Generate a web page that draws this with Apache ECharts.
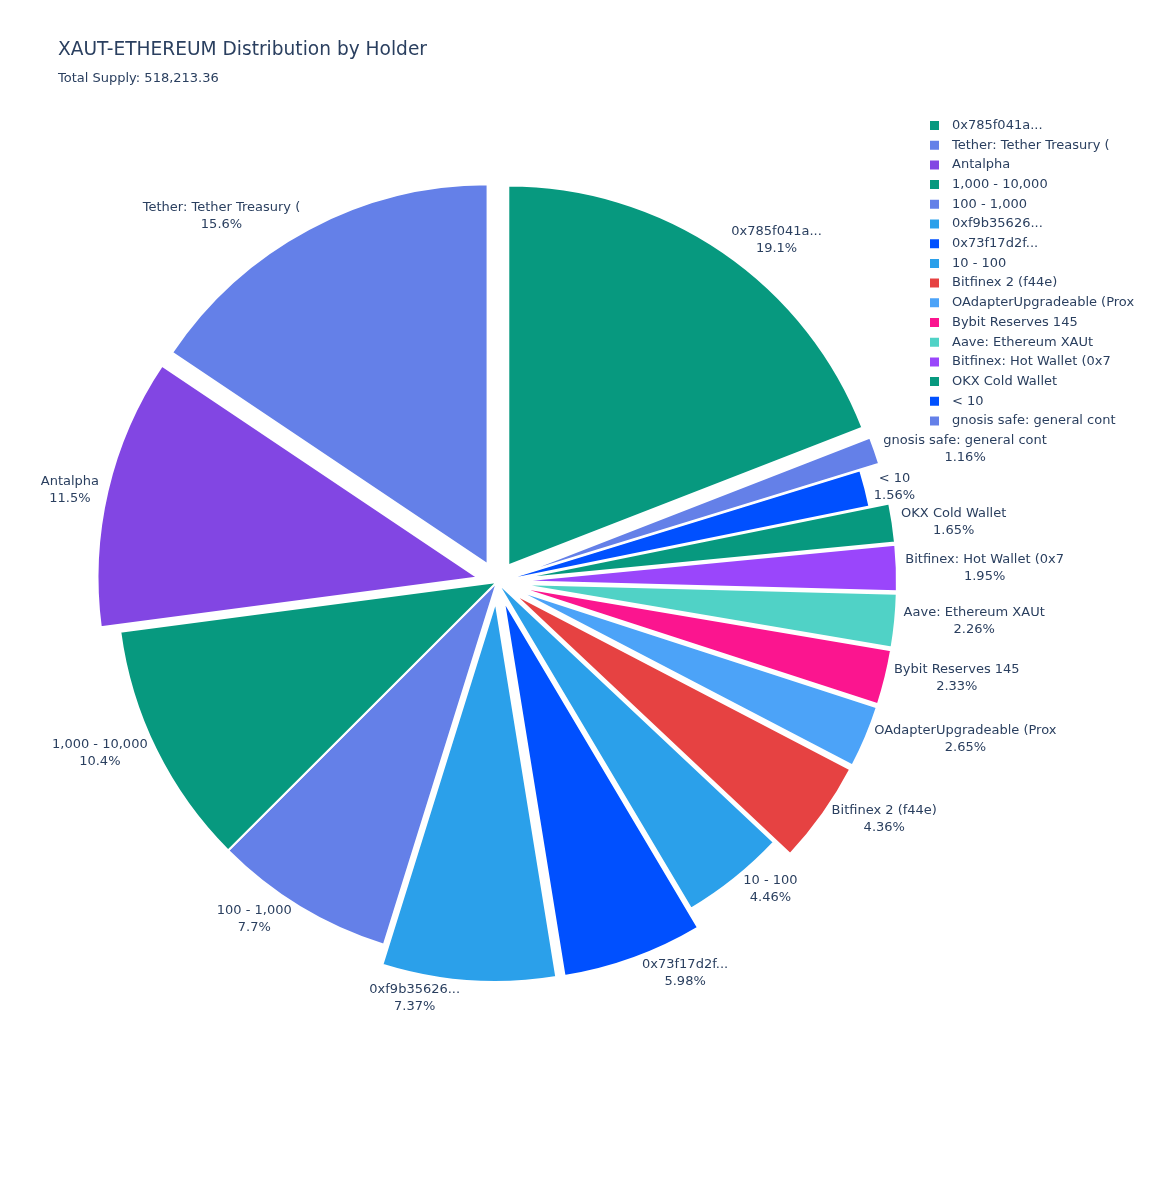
<!DOCTYPE html>
<html>
<head>
<meta charset="utf-8">
<script src="https://cdn.jsdelivr.net/npm/echarts@6/dist/echarts.min.js"></script>
<style>html,body{margin:0;padding:0;background:#fff}#chart{width:1150px;height:1200px}</style>
</head>
<body>
<div id="chart"></div>
<script>
// Slices in drawing order (clockwise from 12 o'clock)
const names = ["0x785f041a...", "gnosis safe: general cont", "< 10", "OKX Cold Wallet", "Bitfinex: Hot Wallet (0x7", "Aave: Ethereum XAUt", "Bybit Reserves 145", "OAdapterUpgradeable (Prox", "Bitfinex 2 (f44e)", "10 - 100", "0x73f17d2f...", "0xf9b35626...", "100 - 1,000", "1,000 - 10,000", "Antalpha", "Tether: Tether Treasury ("];
const shares = [19.1, 1.16, 1.56, 1.65, 1.95, 2.26, 2.33, 2.65, 4.36, 4.46, 5.98, 7.37, 7.7, 10.4, 11.5, 15.6];
const colors = ["#07997f", "#6480e8", "#0050ff", "#07997f", "#9a46fb", "#50d2c6", "#fb158f", "#4ca3f8", "#e64242", "#2ba0ea", "#0050ff", "#2ba0ea", "#6480e8", "#07997f", "#8246e3", "#6480e8"];
const pulled = [true, true, false, true, true, true, true, true, true, false, true, true, false, false, true, true];
// Legend order (descending)
const legendOrder = ["0x785f041a...", "Tether: Tether Treasury (", "Antalpha", "1,000 - 10,000", "100 - 1,000", "0xf9b35626...", "0x73f17d2f...", "10 - 100", "Bitfinex 2 (f44e)", "OAdapterUpgradeable (Prox", "Bybit Reserves 145", "Aave: Ethereum XAUt", "Bitfinex: Hot Wallet (0x7", "OKX Cold Wallet", "< 10", "gnosis safe: general cont"];

const FONT = "DejaVu Sans";
const TXT = "#2a3f5f";
const CX = 497, CY = 582, R = 380, PULL = 20;

const total = shares.reduce((a, b) => a + b, 0);
const mids = [];
let acc = 0;
shares.forEach(s => { mids.push((acc + s / 2) / total * 2 * Math.PI); acc += s; });

const sliceData = names.map((n, i) => ({
  name: n, value: shares[i], selected: pulled[i],
  itemStyle: { color: colors[i] }
}));
const labelData = names.map((n, i) => ({ name: n, value: shares[i] }));

const chart = echarts.init(document.getElementById('chart'), null, { renderer: 'canvas' });
chart.setOption({
  animation: false,
  backgroundColor: '#fff',
  textStyle: { fontFamily: FONT },
  title: {
    text: 'XAUT-ETHEREUM Distribution by Holder',
    subtext: 'Total Supply: 518,213.36',
    left: 53, top: 36, itemGap: 12,
    textStyle: { fontFamily: FONT, fontSize: 18.6, fontWeight: 'normal', color: TXT },
    subtextStyle: { fontFamily: FONT, fontSize: 13, color: TXT }
  },
  legend: {
    orient: 'vertical', left: 923, top: 114,
    data: legendOrder,
    icon: 'rect', itemWidth: 11, itemHeight: 11, itemGap: 6.7,
    selectedMode: false,
    textStyle: { fontFamily: FONT, fontSize: 13, color: TXT, padding: [0, 0, 0, 7], lineHeight: 12 }
  },
  series: [{
    type: 'pie',
    name: 'slices',
    center: [CX, CY],
    radius: R,
    startAngle: 90,
    clockwise: true,
    selectedMode: 'multiple',
    selectedOffset: PULL,
    itemStyle: { borderColor: '#fff', borderWidth: 2 },
    select: { itemStyle: { borderColor: '#fff', borderWidth: 2 }, label: { show: false } },
    emphasis: { scale: false },
    label: { show: false },
    labelLine: { show: false },
    data: sliceData
  }, {
    type: 'pie',
    name: 'labels',
    center: [CX, CY],
    radius: R,
    startAngle: 90,
    clockwise: true,
    selectedMode: false,
    silent: true,
    percentPrecision: 4,
    avoidLabelOverlap: false,
    itemStyle: { color: 'rgba(255,255,255,0)', borderWidth: 0 },
    emphasis: { disabled: true },
    label: {
      show: true, position: 'outside',
      fontFamily: FONT, fontSize: 13, color: TXT, lineHeight: 17,
      formatter: p => p.name + '\n' + parseFloat(p.percent.toPrecision(3)) + '%'
    },
    labelLine: { show: false, length: 6, length2: 4 },
    labelLayout: function (p) {
      const i = p.dataIndex, a = mids[i];
      const r = R + (pulled[i] ? PULL : 0);
      const x = r * Math.sin(a), y = -r * Math.cos(a);
      let dx = p.labelRect.width / 2, dy = p.labelRect.height / 2;
      if (x < 0) dx = -dx;
      if (y < 0) dy = -dy;
      const ox = dx + Math.abs(dy) * (dx > 0 ? 1 : -1) / 2;
      const oy = dy / (1 + (x * x) / (y * y));
      return { x: CX + x + ox, y: CY + y + oy, align: 'center', verticalAlign: 'middle' };
    },
    data: labelData
  }]
});
</script>
</body>
</html>
